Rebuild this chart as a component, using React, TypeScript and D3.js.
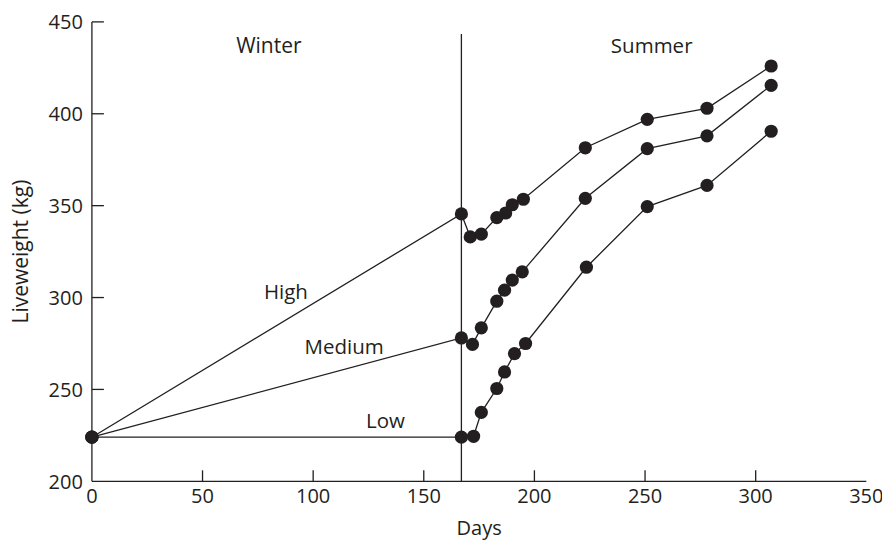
import React from "react";
import * as d3 from "d3";

const xTicks = [0, 50, 100, 150, 200, 250, 300, 350];
const yTicks = [200, 250, 300, 350, 400, 450];

const highDays = [0, 167, 171, 176, 183, 187, 190, 195, 223, 251, 278, 307];
const highKg = [224, 345.5, 333, 334.5, 343.5, 346, 350.5, 353.5, 381.5, 397, 403, 426];

const mediumDays = [0, 167, 172, 176, 183, 186.5, 190, 194.5, 223, 251, 278, 307];
const mediumKg = [224, 278, 274.5, 283.5, 298, 304, 309.5, 314, 354, 381, 388, 415.5];

const lowDays = [0, 167, 172.5, 176, 183, 186.5, 191, 196, 223.5, 251, 278, 307];
const lowKg = [224, 224, 224.5, 237.5, 250.5, 259.5, 269.5, 275, 316.5, 349.5, 361, 390.5];

const seriesNames = ["High", "Medium", "Low"];
const seasonNames = ["Winter", "Summer"];
const seasonBoundary = 167;

const W = 882;
const H = 540;
const FONT = "'Open Sans', 'Noto Sans', sans-serif";
const INK = "#231f20";

export default function App() {
  const x = d3.scaleLinear().domain([0, 350]).range([91.9, 866.3]);
  const y = d3.scaleLinear().domain([200, 450]).range([481.3, 21.9]);

  const series = [
    { name: seriesNames[0], days: highDays, kg: highKg },
    { name: seriesNames[1], days: mediumDays, kg: mediumKg },
    { name: seriesNames[2], days: lowDays, kg: lowKg },
  ];

  const line = d3
    .line<[number, number]>()
    .x((d) => x(d[0]))
    .y((d) => y(d[1]));

  // label anchor positions in data units, as in the original
  const labelPos: [number, number][] = [
    [87.7, 299.2],
    [114, 269.2],
    [132.7, 229],
  ];

  return (
    <svg
      width={W}
      height={H}
      style={{ position: "absolute", left: 0, top: 0, background: "#fff" }}
      fontFamily={FONT}
    >
      <rect x={0} y={0} width={W} height={H} fill="#fff" />
      {/* axes */}
      <line x1={x(0)} x2={x(350)} y1={y(200)} y2={y(200)} stroke={INK} strokeWidth={1.3} />
      <line x1={x(0)} x2={x(0)} y1={y(200)} y2={y(450)} stroke={INK} strokeWidth={1.3} />
      {xTicks.slice(1, -1).map((t) => (
        <line key={"xt" + t} x1={x(t)} x2={x(t)} y1={y(200)} y2={y(200) - 11} stroke={INK} strokeWidth={1.3} />
      ))}
      {yTicks.slice(1).map((t) => (
        <line key={"yt" + t} x1={x(0)} x2={x(0) + 12} y1={y(t)} y2={y(t)} stroke={INK} strokeWidth={1.3} />
      ))}
      {xTicks.map((t) => (
        <text key={"xl" + t} x={x(t)} y={y(200) + 22} textAnchor="middle" fontSize={20} fill={INK}>
          {t}
        </text>
      ))}
      {yTicks.map((t) => (
        <text key={"yl" + t} x={x(0) - 9} y={y(t)} dy="0.36em" textAnchor="end" fontSize={20} fill={INK}>
          {t}
        </text>
      ))}
      <text x={x(175)} y={535} textAnchor="middle" fontSize={20} fill={INK}>
        Days
      </text>
      <text
        transform={`translate(28, ${y(325)}) rotate(-90)`}
        textAnchor="middle"
        fontSize={21}
        fill={INK}
      >
        Liveweight (kg)
      </text>

      {/* season divider */}
      <line
        x1={x(seasonBoundary)}
        x2={x(seasonBoundary)}
        y1={34}
        y2={y(200)}
        stroke={INK}
        strokeWidth={1.3}
      />
      <text x={x(80)} y={53} textAnchor="middle" fontSize={21} fill={INK}>
        {seasonNames[0]}
      </text>
      <text x={x(253)} y={53} textAnchor="middle" fontSize={20.5} fill={INK}>
        {seasonNames[1]}
      </text>

      {/* series */}
      {series.map((s) => {
        const pts: [number, number][] = s.days.map((d, i) => [d, s.kg[i]]);
        return (
          <g key={s.name}>
            <path d={line(pts) || ""} fill="none" stroke={INK} strokeWidth={1.3} />
            {pts.map((p, i) => (
              <circle key={i} cx={x(p[0])} cy={y(p[1])} r={6.6} fill={INK} />
            ))}
          </g>
        );
      })}

      {series.map((s, i) => (
        <text
          key={"lab" + s.name}
          x={x(labelPos[i][0])}
          y={y(labelPos[i][1])}
          textAnchor="middle"
          fontSize={20.5}
          fill={INK}
        >
          {s.name}
        </text>
      ))}
    </svg>
  );
}
